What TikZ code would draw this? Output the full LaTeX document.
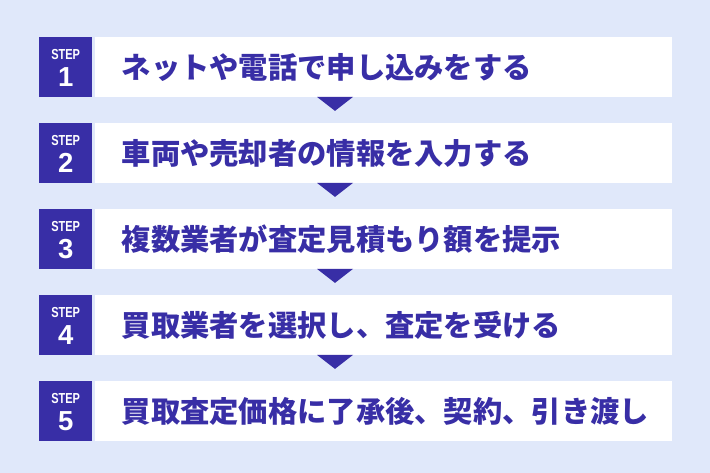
\documentclass[tikz,border=0pt]{standalone}
\usepackage{fontspec}
\newfontfamily\jp{Noto Sans CJK JP Black}
\newfontfamily\lat{Liberation Sans}
\usetikzlibrary{calc}
\definecolor{bg}{RGB}{224,232,250}
\definecolor{ink}{RGB}{56,46,166}
\tikzset{
  stepbox/.style={fill=ink, minimum width=53pt, minimum height=59.5pt, inner sep=0pt, anchor=north west},
  barbox/.style={fill=white, minimum width=577pt, minimum height=59.5pt, inner sep=0pt, anchor=north west},
  steplbl/.style={text=white, font=\lat\bfseries\fontsize{14.5}{14.5}\selectfont, xscale=0.76, inner sep=0pt},
  stepnum/.style={text=white, font=\lat\bfseries\fontsize{27.5}{27.5}\selectfont, inner sep=0pt},
  bartext/.style={text=ink, font=\jp\fontsize{29.3}{30}\selectfont, anchor=west, inner sep=0pt},
  tri/.style={fill=ink}
}
\begin{document}
\begin{tikzpicture}[x=1pt,y=-1pt]
\fill[bg] (0,0) rectangle (710,473);
\useasboundingbox (0,0) rectangle (710,473);
\foreach \i/\t in {1/ネットや電話で申し込みをする,2/車両や売却者の情報を入力する,3/複数業者が査定見積もり額を提示,4/買取業者を選択し、査定を受ける,5/買取査定価格に了承後、契約、引き渡し}{
  \pgfmathsetmacro{\yy}{37+86*(\i-1)}
  \node[stepbox] (s\i) at (39,\yy) {};
  \node[barbox] (b\i) at (95,\yy) {};
  \node[steplbl] (l\i) at ($(s\i.north)+(0,17.3)$) {STEP};
  \node[stepnum] (n\i) at ($(s\i.north)+(0,39.7)$) {\i};
  \node[bartext] (t\i) at ($(b\i.west)+(26.5,0.5)$) {\t};
}
\foreach \i in {1,2,3,4}{
  \fill[tri] ($(b\i.south west)+(222,0)$) -- ($(b\i.south west)+(258,0)$) -- ($(b\i.south west)+(240,14)$) -- cycle;
}
\end{tikzpicture}
\end{document}
